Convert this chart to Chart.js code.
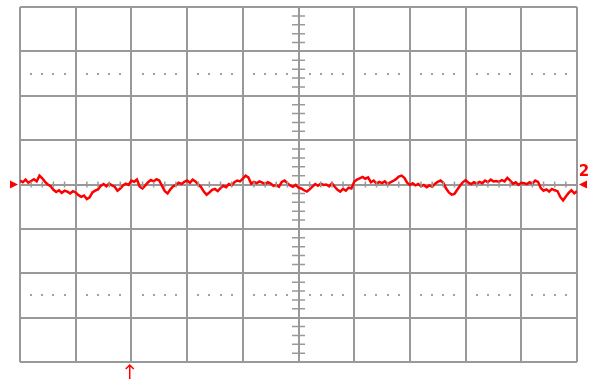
<!DOCTYPE html>
<html>
<head>
<meta charset="utf-8">
<script src="https://cdn.jsdelivr.net/npm/chart.js@4.4.1/dist/chart.umd.min.js"></script>
<style>
  html, body { margin: 0; padding: 0; background: #ffffff; }
  #wrap { width: 593px; height: 379px; }
</style>
</head>
<body>
<div id="wrap"><canvas id="scope" width="593" height="379"></canvas></div>
<script>
// channel 2 trace, 1 div = 10 units, sampled every half unit of time (0..100)
var sampleStep = 0.5;
var ch2 = [
    0.9, 0.5, 1.1, 0.4, 0.8, 1.2, 0.7, 2.0, 1.4, 0.6,
    0.0, -0.4, -1.2, -1.7, -1.3, -1.9, -1.4, -1.6, -2.0, -1.5,
    -1.8, -2.4, -2.8, -2.5, -3.3, -2.9, -1.8, -1.4, -1.1, -0.3,
    0.1, -0.4, 0.2, -0.2, -0.5, -1.4, -0.9, -0.2, 0.2, -0.1,
    0.9, 0.6, 1.1, -0.5, -0.9, -0.2, 0.5, 1.0, 0.7, 1.2,
    0.9, -0.3, -1.5, -2.0, -1.1, -0.4, -0.1, 0.4, 0.1, 0.6,
    0.9, 0.4, 1.1, 0.7, 0.0, -0.6, -1.6, -2.3, -1.8, -1.2,
    -1.0, -1.5, -0.8, -0.3, -0.6, 0.1, -0.2, 0.5, 0.9, 0.7,
    1.3, 2.0, 1.6, 0.2, 0.6, 0.3, 0.7, 0.4, 0.1, 0.5,
    0.2, -0.3, -0.1, -0.5, 0.6, 0.9, 0.3, -0.2, -0.5, -0.1,
    -0.7, -0.9, -1.3, -1.6, -1.1, -0.5, 0.1, -0.3, 0.2, -0.1,
    0.0, -0.4, 0.3, -0.5, -1.2, -1.6, -1.0, -1.4, -0.7, -0.9,
    0.6, 1.1, 1.4, 1.7, 1.3, 1.6, 0.5, 0.9, 0.2, 0.6,
    0.3, 0.7, 0.1, 0.5, 0.8, 1.2, 1.8, 2.0, 1.5, 0.4,
    -0.1, 0.3, -0.2, 0.1, -0.4, -0.1, -0.6, -0.2, -0.5, 0.2,
    0.6, 0.9, 0.4, -0.9, -1.8, -2.3, -2.1, -1.2, -0.3, 0.5,
    1.0, 0.4, 0.1, 0.5, 0.2, 0.6, 0.3, 0.9, 0.5, 1.1,
    0.7, 0.8, 0.6, 1.0, 0.7, 1.5, 0.9, 0.2, 0.5, -0.1,
    0.4, 0.3, 0.1, 0.5, 0.2, 0.9, 0.6, -0.8, -1.4, -1.1,
    -1.6, -1.0, -1.3, -1.5, -2.8, -3.6, -2.7, -1.9, -1.3, -2.0,
    -1.5
];
var xDivs = 10, yDivs = 8;
var dottedRows = [25, -25];
var ch2Level = 0;
var triggerPos = 19.7;

var points = ch2.map(function (v, i) { return { x: i * sampleStep, y: v }; });

var gridCol = '#999999';
var traceCol = '#ff0000';

var scopeDecor = {
    id: 'scopeDecor',
    afterDraw: function (chart) {
        var ctx = chart.ctx;
        var xs = chart.scales.x, ys = chart.scales.y;
        var a = chart.chartArea;
        var cx = xs.getPixelForValue(50), cy = ys.getPixelForValue(0);
        ctx.save();
        // dotted rows
        ctx.fillStyle = '#a0a0a0';
        dottedRows.forEach(function (r) {
            var py = ys.getPixelForValue(r);
            for (var d = 0; d < xDivs; d++) {
                for (var k = 1; k <= 4; k++) {
                    var px = xs.getPixelForValue(d * 10 + k * 2);
                    ctx.fillRect(Math.round(px) - 1, Math.round(py) - 1, 2, 2);
                }
            }
        });
        // minor ticks on the centre cross
        ctx.strokeStyle = gridCol;
        ctx.lineWidth = 1.5;
        ctx.beginPath();
        for (var t = -40; t <= 40; t += 2) {
            if (t % 10 === 0) continue;
            var ty = ys.getPixelForValue(t);
            ctx.moveTo(cx - 6.5, ty); ctx.lineTo(cx + 6.5, ty);
        }
        for (var s = 0; s <= 100; s += 2) {
            if (s % 10 === 0) continue;
            var tx = xs.getPixelForValue(s);
            ctx.moveTo(tx, cy - 3); ctx.lineTo(tx, cy + 3);
        }
        ctx.stroke();
        // channel marker left
        var ly = ys.getPixelForValue(ch2Level);
        ctx.fillStyle = traceCol;
        ctx.beginPath();
        ctx.moveTo(a.left - 10, ly - 4); ctx.lineTo(a.left - 2, ly); ctx.lineTo(a.left - 10, ly + 4);
        ctx.closePath(); ctx.fill();
        // channel marker right
        ctx.beginPath();
        ctx.moveTo(a.right + 10, ly - 4); ctx.lineTo(a.right + 2, ly); ctx.lineTo(a.right + 10, ly + 4);
        ctx.closePath(); ctx.fill();
        ctx.font = 'bold 15px "DejaVu Sans", sans-serif';
        ctx.textAlign = 'center';
        ctx.textBaseline = 'middle';
        ctx.fillText('2', a.right + 7, ly - 12);
        // trigger arrow
        var tpx = xs.getPixelForValue(triggerPos);
        ctx.strokeStyle = traceCol;
        ctx.lineWidth = 1.5;
        ctx.beginPath();
        ctx.moveTo(tpx, a.bottom + 3); ctx.lineTo(tpx, a.bottom + 17);
        ctx.moveTo(tpx - 4, a.bottom + 7); ctx.lineTo(tpx, a.bottom + 3); ctx.lineTo(tpx + 4, a.bottom + 7);
        ctx.stroke();
        ctx.restore();
    }
};

new Chart(document.getElementById('scope'), {
    type: 'line',
    data: {
        datasets: [{
            data: points,
            borderColor: traceCol,
            borderWidth: 2.5,
            pointRadius: 0,
            tension: 0
        }]
    },
    options: {
        responsive: false,
        animation: false,
        layout: { padding: { left: 20, right: 16, top: 7, bottom: 17 } },
        plugins: { legend: { display: false }, tooltip: { enabled: false } },
        scales: {
            x: {
                type: 'linear', min: 0, max: 100,
                ticks: { display: false, stepSize: 10 },
                grid: { color: gridCol, lineWidth: 2, drawTicks: false },
                border: { display: false }
            },
            y: {
                type: 'linear', min: -40, max: 40,
                ticks: { display: false, stepSize: 10 },
                grid: { color: gridCol, lineWidth: 2, drawTicks: false },
                border: { display: false }
            }
        }
    },
    plugins: [scopeDecor]
});
</script>
</body>
</html>
